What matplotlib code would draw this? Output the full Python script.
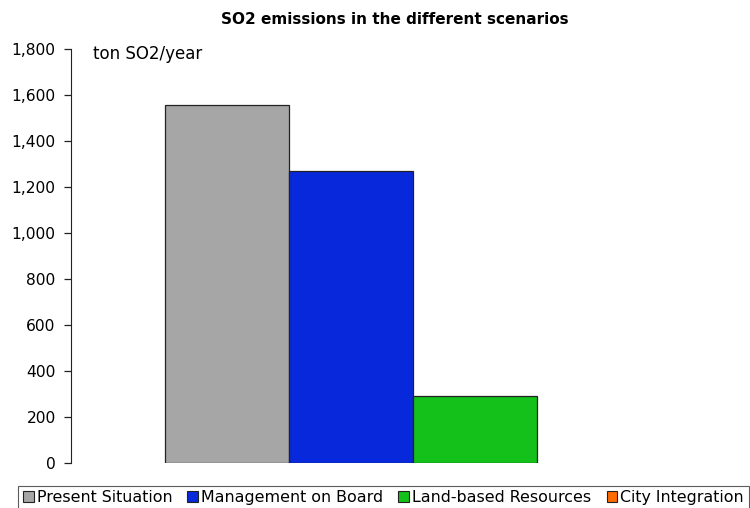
import matplotlib.pyplot as plt
from matplotlib.patches import Patch

plt.rcParams['font.family'] = ['DejaVu Sans']

scenarios = ["Present Situation", "Management on Board", "Land-based Resources", "City Integration"]
so2 = [1557, 1268, 290, 0]
colors = ["#A6A6A6", "#0828DC", "#14C01A", "#FF6A00"]
yticks = [0, 200, 400, 600, 800, 1000, 1200, 1400, 1600, 1800]

fig = plt.figure(figsize=(7.5, 5.08), dpi=100)
ax = fig.add_axes([71/750, 45/508, 679/750, 414/508])

xs = range(len(scenarios))
edges = ["#222222" if v > 0 else "none" for v in so2]
ax.bar(xs, so2, width=1, align="edge", color=colors, edgecolor=edges, linewidth=0.9)

ax.set_xlim(-0.758, 4.718)
ax.set_ylim(0, 1800)
ax.set_yticks(yticks)
ax.set_yticklabels([f"{v:,}" for v in yticks], fontsize=11.2)
ax.set_xticks([])
for s in ["top", "right", "bottom"]:
    ax.spines[s].set_visible(False)
ax.spines["left"].set_color("#222222")
ax.tick_params(axis="y", length=5, width=0.9, color="#222222", pad=6)

ax.text(22/679, 1.01, "ton SO2/year", transform=ax.transAxes, fontsize=12, va="top", ha="left")
fig.text(395/750, 1 - 20/508, "SO2 emissions in the different scenarios", fontsize=11,
         fontweight="bold", ha="center", va="center")

handles = [Patch(facecolor=c, edgecolor="#222222", linewidth=0.8) for c in colors]
leg = fig.legend(handles, scenarios, loc="lower left", bbox_to_anchor=(18/750, -0.004), ncol=4,
                 fontsize=11.4, frameon=True, fancybox=False, handlelength=0.68, handleheight=0.68,
                 handletextpad=0.2, columnspacing=0.95, borderpad=0.3, borderaxespad=0.0)
leg.get_frame().set_edgecolor("#333333")
leg.get_frame().set_linewidth(0.8)

fig.savefig("out.png", dpi=100)
